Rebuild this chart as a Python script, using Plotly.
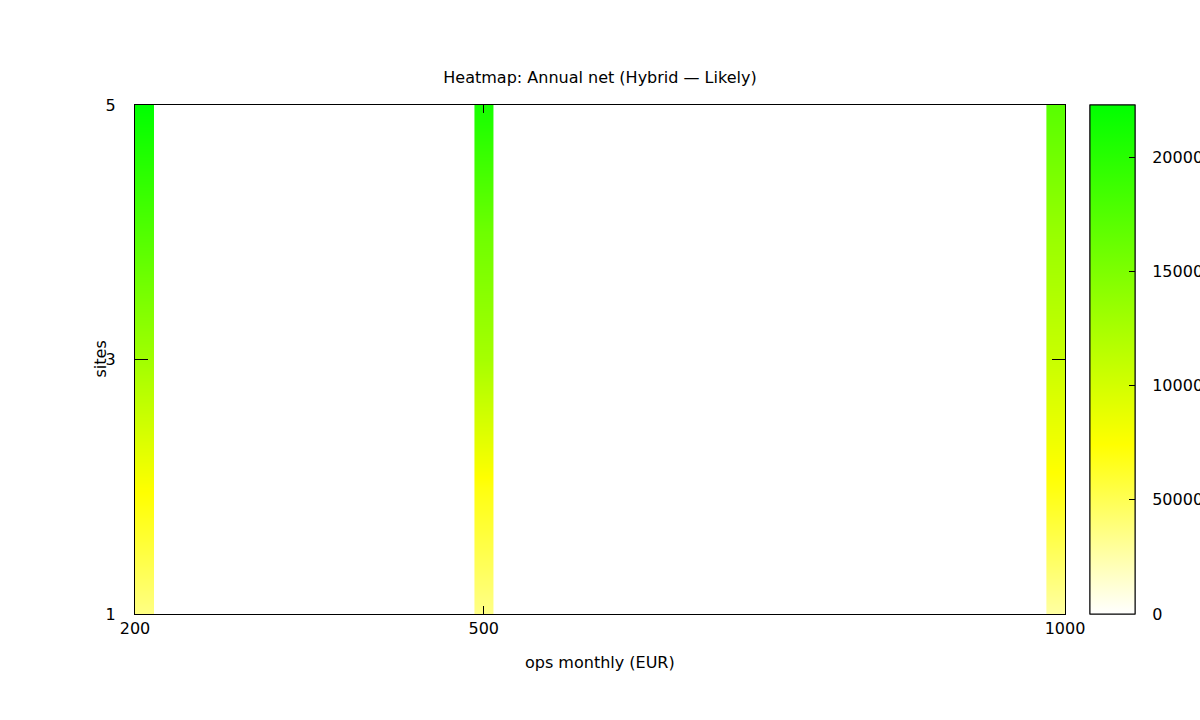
#!/usr/bin/env python3
"""
Heatmap of annual net (Hybrid - Likely scenario) by monthly ops cost and number of sites.
"""

import plotly.graph_objects as go

# ops monthly cost (EUR) columns and site counts
ops_monthly = [200, 500, 1000]
sites = [1, 2, 3, 4, 5]

# annual net per column, one value per site count
net_ops_200 = [36000, 76000, 129000, 176000, 223000]
net_ops_500 = [35000, 70000, 126000, 159000, 210000]
net_ops_1000 = [27000, 70000, 106000, 135000, 172000]
net_by_ops = [net_ops_200, net_ops_500, net_ops_1000]

cb_min = 0
cb_max = 223000
cb_ticks = [0, 50000, 100000, 150000, 200000]

FONT = "DejaVu Sans"
FSIZE = 16
STRIP = 16  # strip width in EUR units


def strip_edges(x, lo_lim, hi_lim, width):
    """Keep each strip inside the axis range."""
    lo = min(max(x - width / 2, lo_lim), hi_lim - width)
    return [lo, lo + width / 2, lo + width]


palette = [[0.0, "#ffffff"], [0.333, "#ffff00"], [1.0, "#00ff00"]]

cbar_base = dict(
    x=1 + 25 / 930, xanchor="left", xref="paper",
    y=0.5, yanchor="middle", len=1.0, lenmode="fraction",
    xpad=0, ypad=0,
    thickness=45, outlinecolor="black", outlinewidth=1,
    tickvals=cb_ticks, tickformat="d",
    tickfont=dict(family=FONT, size=FSIZE, color="black"),
)
# first scale carries the labels (pushed out by invisible ticks),
# second one sits on top and only draws the small inside tick marks
cbar_labels = dict(cbar_base, ticks="outside", ticklen=14, tickcolor="rgba(0,0,0,0)")
cbar_marks = dict(cbar_base, ticks="inside", ticklen=6, tickcolor="black",
                  showticklabels=False)

fig = go.Figure()
for i, (ops, values) in enumerate(zip(ops_monthly, net_by_ops)):
    fig.add_trace(go.Heatmap(
        x=strip_edges(ops, ops_monthly[0], ops_monthly[-1], STRIP),
        y=sites,
        z=[[v, v] for v in values],
        zmin=cb_min,
        zmax=cb_max,
        colorscale=palette,
        zsmooth="best",
        showscale=(i < 2),
        colorbar=cbar_labels if i == 0 else cbar_marks,
        hovertemplate="ops %{x}<br>sites %{y}<br>net %{z}<extra></extra>",
    ))

axis_style = dict(
    showline=True, linecolor="black", linewidth=1, mirror="ticks",
    ticks="inside", tickcolor="black", showgrid=False, zeroline=False,
    layer="above traces",
    tickfont=dict(family=FONT, size=FSIZE, color="black"),
)

fig.update_layout(
    width=1200, height=720,
    margin=dict(l=135, r=135, t=105, b=106, autoexpand=False),
    plot_bgcolor="white", paper_bgcolor="white",
    showlegend=False,
    title=dict(text="Heatmap: Annual net (Hybrid — Likely)",
               x=0.5, xanchor="center",
               y=1 - 77 / 720, yanchor="middle",
               font=dict(family=FONT, size=FSIZE, color="black")),
    xaxis=dict(range=[ops_monthly[0], ops_monthly[-1]], tickvals=ops_monthly,
               ticklen=8, **axis_style),
    yaxis=dict(range=[sites[0], sites[-1]], tickvals=[1, 3, 5],
               ticklen=13, ticklabelstandoff=15, **axis_style),
    annotations=[
        dict(text="ops monthly (EUR)", xref="paper", yref="paper", x=0.5, y=-48 / 509,
             xanchor="center", yanchor="middle", showarrow=False,
             font=dict(family=FONT, size=FSIZE, color="black")),
        dict(text="sites", xref="paper", yref="paper", x=-35 / 930, y=0.5,
             xanchor="center", yanchor="middle", textangle=-90, showarrow=False,
             font=dict(family=FONT, size=FSIZE, color="black")),
    ],
)

# drop the default page margin so the 1200x720 figure fills the window exactly
fig.write_html("out.html", config={"displayModeBar": False},
               post_script="document.body.style.margin = '0';")
